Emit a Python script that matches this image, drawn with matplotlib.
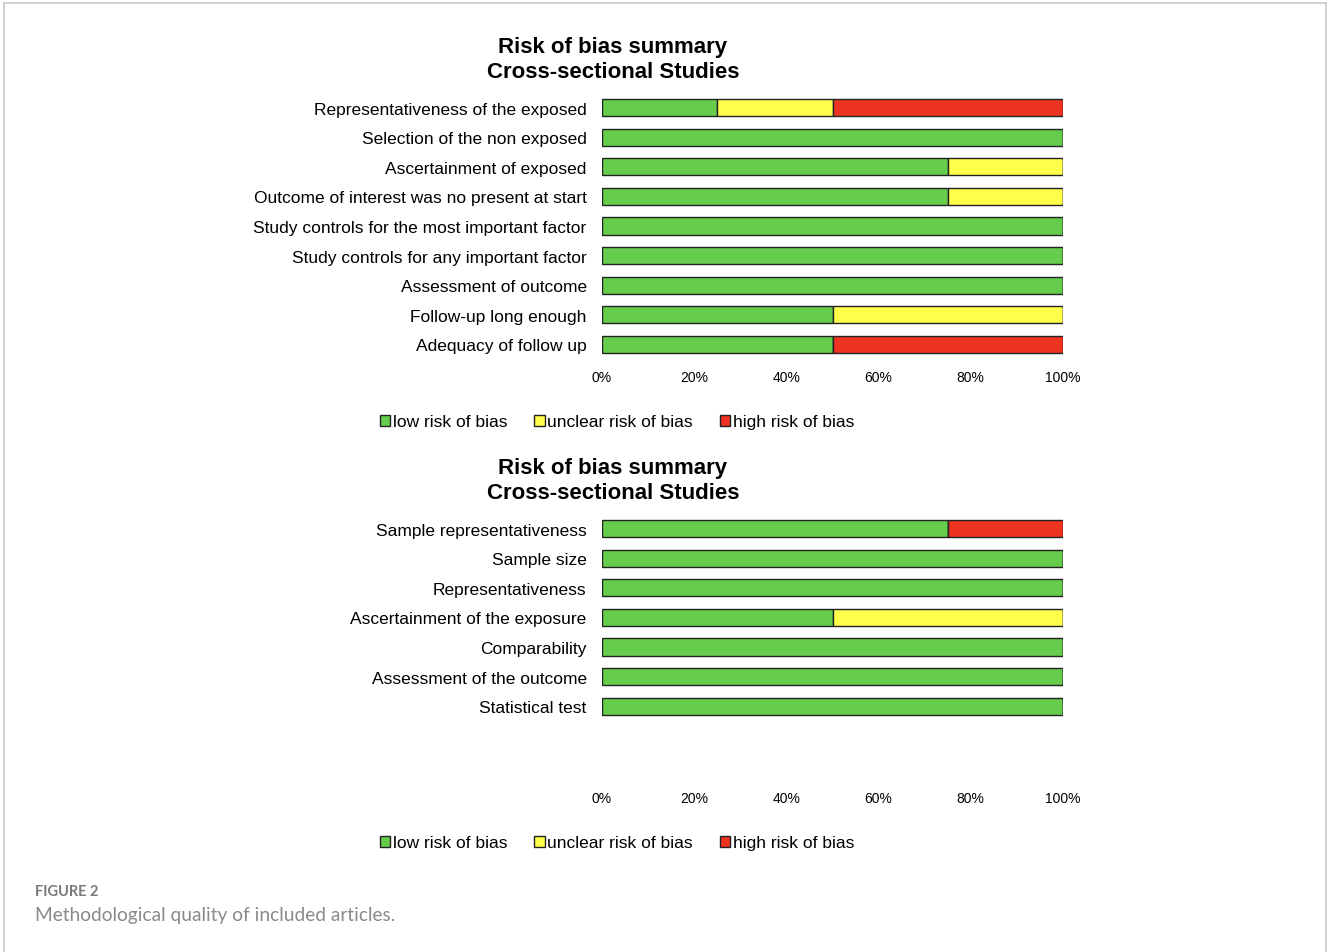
import matplotlib
matplotlib.use("Agg")
import matplotlib.pyplot as plt
from matplotlib.patches import Patch
from matplotlib.lines import Line2D

plt.rcParams["font.family"] = ["Liberation Sans", "DejaVu Sans"]

# -- Data (percent of studies) ------------------------------------------
top_items = [
    "Representativeness of the exposed",
    "Selection of the non exposed",
    "Ascertainment of exposed",
    "Outcome of interest was no present at start",
    "Study controls for the most important factor",
    "Study controls for any important factor",
    "Assessment of outcome",
    "Follow-up long enough",
    "Adequacy of follow up",
]
top_low = [25, 100, 75, 75, 100, 100, 100, 50, 50]
top_unclear = [25, 0, 25, 25, 0, 0, 0, 50, 0]
top_high = [50, 0, 0, 0, 0, 0, 0, 0, 50]

bottom_items = [
    "Sample representativeness",
    "Sample size",
    "Representativeness",
    "Ascertainment of the exposure",
    "Comparability",
    "Assessment of the outcome",
    "Statistical test",
]
bottom_low = [75, 100, 100, 50, 100, 100, 100]
bottom_unclear = [0, 0, 0, 50, 0, 0, 0]
bottom_high = [25, 0, 0, 0, 0, 0, 0]

xticks = [0, 20, 40, 60, 80, 100]
legend_labels = ["low risk of bias", "unclear risk of bias", "high risk of bias"]
title_text = "Risk of bias summary\nCross-sectional Studies"

# -- Palette ------------------------------------------------------------
GREEN = "#66cc4c"
YELLOW = "#ffff4c"
RED = "#ee3322"
EDGE = "#222222"
COLORS = [GREEN, YELLOW, RED]

W, H = 1328, 953
fig = plt.figure(figsize=(W / 100, H / 100), dpi=100, facecolor="white")


def draw_panel(ax, items, low, unclear, high, n_slots=9):
    y = list(range(len(items)))
    left = [0] * len(items)
    for vals, col in zip([low, unclear, high], COLORS):
        ax.barh(y, vals, left=left, height=0.58, color=col,
                edgecolor=EDGE, linewidth=1.0)
        left = [a + b for a, b in zip(left, vals)]
    ax.set_ylim(n_slots - 0.5, -0.5)
    ax.set_xlim(0, 100)
    ax.set_yticks(y)
    ax.set_yticklabels(items, fontsize=12.5)
    ax.set_xticks(xticks)
    ax.set_xticklabels([f"{v}%" for v in xticks], fontsize=10)
    ax.tick_params(axis="y", length=0, pad=11)
    ax.tick_params(axis="x", length=0, pad=8)
    for s in ax.spines.values():
        s.set_visible(False)


def fy(px):
    return 1 - px / H


ax_w = 461 / W
ax_h = 266 / H
ax1 = fig.add_axes([602 / W, fy(360), ax_w, ax_h])
draw_panel(ax1, top_items, top_low, top_unclear, top_high)
ax2 = fig.add_axes([602 / W, fy(781), ax_w, ax_h])
draw_panel(ax2, bottom_items, bottom_low, bottom_unclear, bottom_high)

for ty in (60, 481):
    fig.text(613 / W, fy(ty), title_text, ha="center", va="center",
             fontsize=16, fontweight="bold", linespacing=1.3)

handles = [Patch(facecolor=c, edgecolor=EDGE, linewidth=1.0) for c in COLORS]
for ly in (423, 844):
    fig.legend(handles, legend_labels, loc="center",
               bbox_to_anchor=(617 / W, fy(ly)), ncol=3, frameon=False,
               fontsize=12.5, handlelength=0.6, handleheight=0.6,
               handletextpad=0.15, columnspacing=1.55)

# caption
fig.text(35 / W, fy(892), "FIGURE 2", fontsize=10.5, color="#7a7a7a",
         family=["Lato", "DejaVu Sans"], fontweight="bold", va="center")
fig.text(35 / W, fy(915), "Methodological quality of included articles.",
         fontsize=13.8, color="#8a8a8a", family=["Lato", "DejaVu Sans"],
         va="center")

# page frame (no bottom edge)
frame_kw = dict(color="#c8c8c8", linewidth=1.2, transform=fig.transFigure)
fig.add_artist(Line2D([4 / W, 4 / W], [0, fy(4)], **frame_kw))
fig.add_artist(Line2D([1326 / W, 1326 / W], [0, fy(4)], **frame_kw))
fig.add_artist(Line2D([4 / W, 1326 / W], [fy(4), fy(4)], **frame_kw))

fig.savefig("out.png", dpi=100, facecolor="white")
